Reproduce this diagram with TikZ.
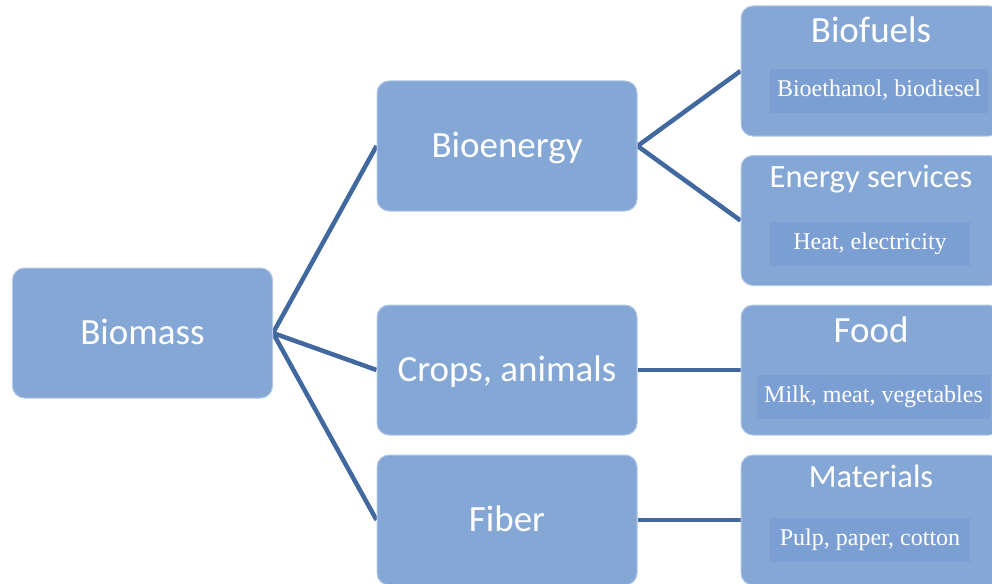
\documentclass[tikz,border=0pt]{standalone}
\usepackage{fontspec}
\newfontfamily\boxfont{Carlito}
\newfontfamily\notefont{Liberation Serif}
\usepackage{tikz}
\usetikzlibrary{backgrounds}
\definecolor{boxblue}{HTML}{84A7D6}
\definecolor{noteblue}{HTML}{7C9FD3}
\definecolor{edgeblue}{HTML}{B3C8E8}
\definecolor{linkblue}{HTML}{41689F}
\tikzset{
  stage/.style={draw=edgeblue, line width=1pt, fill=boxblue, rounded corners=12pt,
    minimum width=260pt, minimum height=130pt, inner sep=0pt,
    text=white, font=\boxfont\fontsize{37}{41}\selectfont, text height=23pt, text depth=0pt},
  head/.style={text=white, font=\boxfont\fontsize{37}{41}\selectfont, inner sep=0pt, anchor=base},
  smallhead/.style={head, font=\boxfont\fontsize{32.5}{36}\selectfont},
  note/.style={fill=noteblue, text=white, font=\notefont\fontsize{24}{28}\selectfont,
    minimum width=200pt, inner xsep=7pt, inner ysep=11.5pt, text height=16pt, text depth=5pt},
  link/.style={draw=linkblue, line width=4.5pt}
}

\begin{document}
\begin{tikzpicture}[x=1pt,y=-1pt]
    \useasboundingbox (0,0) rectangle (992,583);
    \clip (0,0) rectangle (992,583);
    %
    \node[stage] (biomass) at (142.5,333) {Biomass};
    \node[stage] (bioenergy) at (507,146) {Bioenergy};
    \node[stage] (crops) at (507,370) {Crops, animals};
    \node[stage] (fiber) at (507,520) {Fiber};
    %
    \node[stage] (biofuels) at (871,71) {};
    \node[stage] (energy) at (871,220.5) {};
    \node[stage] (food) at (871,370) {};
    \node[stage] (materials) at (871,520) {};
    %
    \node[head] (biofuels-t) at (871,43) {Biofuels};
    \node[smallhead] (energy-t) at (871,187) {Energy services};
    \node[head] (food-t) at (871,342) {Food};
    \node[smallhead] (materials-t) at (871,487) {Materials};
    %
    \node[note] (biofuels-n) at (879,91) {Bioethanol, biodiesel};
    \node[note] (energy-n) at (870,244) {Heat, electricity};
    \node[note] (food-n) at (873.5,397) {Milk, meat, vegetables};
    \node[note] (materials-n) at (870,540) {Pulp, paper, cotton};
    %
    \begin{scope}[on background layer]
      \draw[link] (biomass.east) -- (bioenergy.west);
      \draw[link] (biomass.east) -- (crops.west);
      \draw[link] (biomass.east) -- (fiber.west);
      \draw[link] (bioenergy.east) -- (biofuels.west);
      \draw[link] (bioenergy.east) -- (energy.west);
      \draw[link] (crops.east) -- (food.west);
      \draw[link] (fiber.east) -- (materials.west);
    \end{scope}
\end{tikzpicture}
\end{document}
